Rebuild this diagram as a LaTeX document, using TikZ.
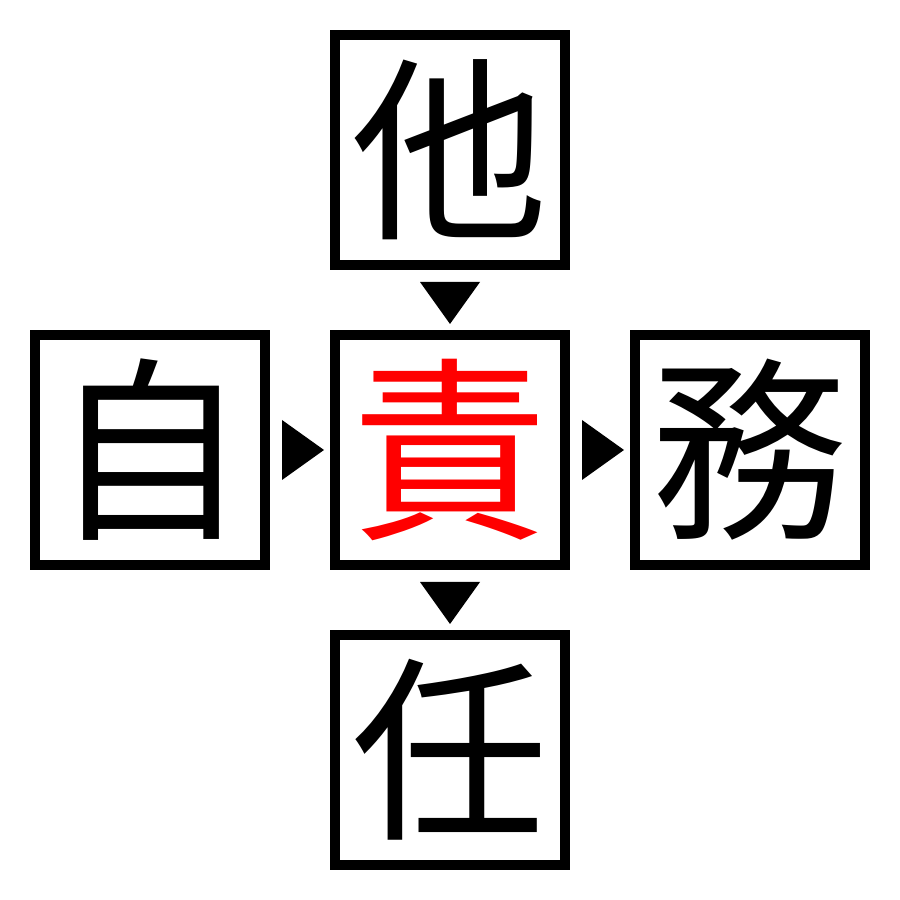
\documentclass[tikz,border=0pt]{standalone}
\usepackage{fontspec}
\newfontfamily\jpfont{Noto Sans CJK JP}
\usepackage{tikz}
\usetikzlibrary{positioning,calc}

\begin{document}
\begin{tikzpicture}[kanji/.style={draw, line width=1mm, rectangle, minimum size=2.3cm, inner sep=0pt, font=\jpfont\fontsize{56}{56}\selectfont}]
				\useasboundingbox (0,0) rectangle (9,9);
				% Nodes

				\node [kanji, text=red] (c0) at (4.5,4.5) {責};
				\node [kanji] (c1) at (4.5,7.5) {他};
				\node [kanji] (c2) at (1.5,4.5) {自};
				\node [kanji] (c3) at (7.5,4.5) {務};
				\node [kanji] (c4) at (4.5,1.5) {任};

				% Triangles

				\fill (c1.south) ++(-0.3,-0.12) -- ++(0.6,0) -- ++(-0.3,-0.42) -- cycle;
				\fill (c2.east) ++(0.12,0.3) -- ++(0,-0.6) -- ++(0.42,0.3) -- cycle;
				\fill (c0.east) ++(0.12,0.3) -- ++(0,-0.6) -- ++(0.42,0.3) -- cycle;
				\fill (c0.south) ++(-0.3,-0.12) -- ++(0.6,0) -- ++(-0.3,-0.42) -- cycle;
			\end{tikzpicture}
\end{document}
